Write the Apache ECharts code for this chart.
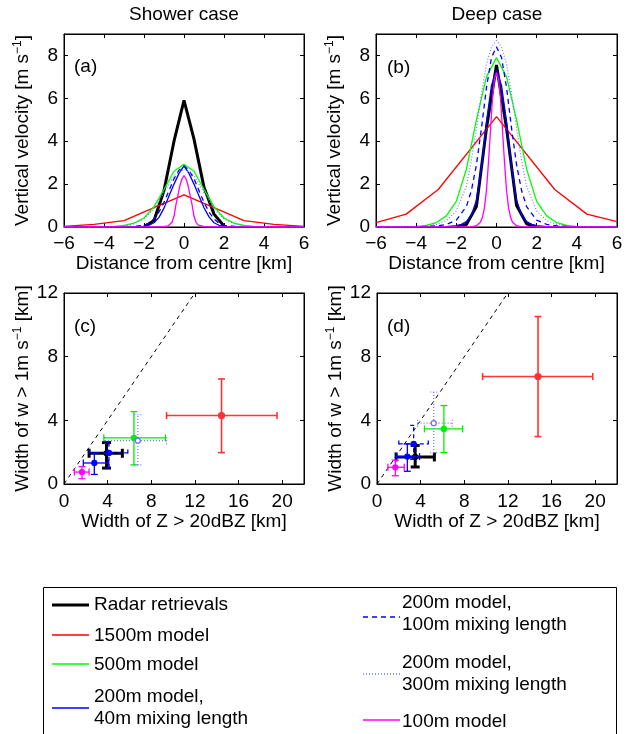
<!DOCTYPE html>
<html><head><meta charset="utf-8">
<script src="https://cdn.jsdelivr.net/npm/echarts@6/dist/echarts.min.js"></script>
<style>html,body{margin:0;padding:0;background:#fff}#c{width:640px;height:734px}</style>
</head><body><div id="c"></div>
<script>
// ------------------ DATA ------------------
const caseTitles = ['Shower case', 'Deep case'];
const panelLabels = ['(a)', '(b)', '(c)', '(d)'];
const seriesNames = ['Radar retrievals', '1500m model', '500m model',
  '200m model,\n40m mixing length', '200m model,\n100m mixing length',
  '200m model,\n300m mixing length', '100m model'];

const distTicks = [-6, -4, -2, 0, 2, 4, 6];
const velTicks = [0, 2, 4, 6, 8];
const widthZTicks = [0, 4, 8, 12, 16, 20];
const widthWTicks = [0, 4, 8, 12];
const oneToOne = [0, 12];

// Shower case profiles (distance km, vertical velocity m/s)
const shRadarX = [-2, -1.5, -1, -0.5, 0, 0.5, 1, 1.5, 2];
const shRadarW = [0, 0.3, 1.7, 4.0, 5.9, 4.1, 1.85, 0.6, 0.05];
const sh1500X = [-6, -4.5, -3, -1.5, 0, 1.5, 3, 4.5, 6];
const sh1500W = [0.03, 0.12, 0.3, 0.9, 1.5, 0.9, 0.3, 0.12, 0.03];
const sh500X = [-6, -5.5, -5, -4.5, -4, -3.5, -3, -2.5, -2, -1.5, -1, -0.5, 0, 0.5, 1, 1.5, 2, 2.5, 3, 3.5, 4, 4.5, 5, 5.5, 6];
const sh500W = [0, 0, 0, 0, 0.01, 0.03, 0.07, 0.18, 0.42, 0.95, 1.75, 2.6, 2.92, 2.6, 1.75, 0.95, 0.42, 0.18, 0.07, 0.03, 0.01, 0, 0, 0, 0];
const sh200aX = [-6, -3, -2, -1.75, -1.5, -1.25, -1, -0.75, -0.5, -0.25, 0, 0.25, 0.5, 0.75, 1, 1.25, 1.5, 1.75, 2, 3, 6];
const sh200aW = [0, 0.01, 0.03, 0.08, 0.2, 0.45, 0.88, 1.45, 2.0, 2.5, 2.85, 2.5, 2.0, 1.45, 0.9, 0.47, 0.2, 0.08, 0.03, 0.01, 0];
const sh200bX = [-6, -3, -2.5, -2, -1.75, -1.5, -1.25, -1, -0.75, -0.5, -0.25, 0, 0.25, 0.5, 0.75, 1, 1.25, 1.5, 1.75, 2, 2.5, 3, 6];
const sh200bW = [0, 0.01, 0.03, 0.08, 0.18, 0.38, 0.7, 1.15, 1.7, 2.25, 2.65, 2.85, 2.65, 2.25, 1.7, 1.15, 0.7, 0.38, 0.18, 0.08, 0.03, 0.01, 0];
const sh200cX = [-6, -4, -3.5, -3, -2.5, -2, -1.5, -1, -0.5, 0, 0.5, 1, 1.5, 2, 2.5, 3, 3.5, 4, 6];
const sh200cW = [0, 0.01, 0.02, 0.05, 0.15, 0.38, 0.85, 1.6, 2.4, 2.7, 2.4, 1.6, 0.85, 0.38, 0.15, 0.05, 0.02, 0.01, 0];
const sh100X = [-6, -1.2, -1, -0.8, -0.7, -0.6, -0.5, -0.4, -0.3, -0.2, -0.1, 0, 0.1, 0.2, 0.3, 0.4, 0.5, 0.6, 0.7, 0.8, 1, 1.2, 6];
const sh100W = [0, 0, 0.02, 0.05, 0.1, 0.22, 0.5, 1.05, 1.5, 1.95, 2.25, 2.4, 2.25, 1.95, 1.5, 1.05, 0.5, 0.22, 0.1, 0.05, 0.02, 0, 0];

// Deep case profiles
const dpRadarX = [-2, -1.5, -1, -0.5, 0, 0.5, 1, 1.5, 2];
const dpRadarW = [0, 0.12, 0.95, 4.6, 7.55, 4.6, 1.0, 0.15, 0];
const dp1500X = [-6, -4.5, -2.9, 0, 2.9, 4.5, 6];
const dp1500W = [0.2, 0.6, 1.75, 5.15, 1.75, 0.6, 0.25];
const dp500X = [-6, -5.5, -5, -4.5, -4, -3.5, -3, -2.5, -2, -1.5, -1, -0.5, 0, 0.5, 1, 1.5, 2, 2.5, 3, 3.5, 4, 4.5, 5, 5.5, 6];
const dp500W = [0, 0, 0, 0.01, 0.02, 0.07, 0.2, 0.52, 1.2, 2.7, 5.0, 7.0, 7.9, 7.0, 5.0, 2.7, 1.2, 0.52, 0.2, 0.07, 0.02, 0.01, 0, 0, 0];
const dp200aX = [-6, -3, -2.5, -2, -1.75, -1.5, -1.25, -1, -0.75, -0.5, -0.25, 0, 0.25, 0.5, 0.75, 1, 1.25, 1.5, 1.75, 2, 2.5, 3, 6];
const dp200aW = [0, 0, 0.02, 0.06, 0.12, 0.25, 0.55, 1.25, 2.8, 4.9, 6.6, 7.3, 6.6, 4.9, 2.8, 1.25, 0.55, 0.25, 0.12, 0.06, 0.02, 0, 0];
const dp200bX = [-6, -4, -3, -2.5, -2, -1.5, -1.25, -1, -0.75, -0.5, -0.25, 0, 0.25, 0.5, 0.75, 1, 1.25, 1.5, 2, 2.5, 3, 4, 6];
const dp200bW = [0, 0, 0.05, 0.12, 0.32, 0.95, 1.7, 2.9, 4.6, 6.5, 7.9, 8.4, 7.9, 6.5, 4.6, 2.9, 1.7, 0.95, 0.32, 0.12, 0.05, 0, 0];
const dp200cX = [-6, -4, -3.5, -3, -2.5, -2, -1.5, -1.25, -1, -0.75, -0.5, -0.25, 0, 0.25, 0.5, 0.75, 1, 1.25, 1.5, 2, 2.5, 3, 3.5, 4, 6];
const dp200cW = [0, 0.02, 0.05, 0.12, 0.3, 0.75, 1.9, 3.1, 4.6, 6.2, 7.6, 8.4, 8.7, 8.4, 7.6, 6.2, 4.6, 3.1, 1.9, 0.75, 0.3, 0.12, 0.05, 0.02, 0];
const dp100X = [-6, -1.5, -1.2, -1, -0.8, -0.7, -0.6, -0.5, -0.4, -0.3, -0.2, -0.1, 0, 0.1, 0.2, 0.3, 0.4, 0.5, 0.6, 0.7, 0.8, 1, 1.2, 1.5, 6];
const dp100W = [0, 0, 0.02, 0.06, 0.22, 0.45, 0.9, 1.7, 3.0, 4.5, 6.0, 6.9, 7.2, 6.9, 6.0, 4.5, 3.0, 1.7, 0.9, 0.45, 0.22, 0.06, 0.02, 0, 0];

// Widths (order: radar, 1500, 500, 200/40, 200/100, 200/300, 100)
const shWidthZ   = [3.9, 14.44, 6.41, 2.78, 4.12, 6.77, 1.65];
const shWidthZLo = [2.3, 9.4, 3.65, 1.77, 2.3, 3.75, 0.95];
const shWidthZHi = [5.35, 19.53, 9.3, 4.1, 5.85, 9.4, 2.3];
const shWidthW   = [1.93, 4.3, 2.9, 1.32, 1.95, 2.72, 0.75];
const shWidthWLo = [1.0, 1.97, 1.2, 0.6, 1.02, 1.2, 0.33];
const shWidthWHi = [2.6, 6.6, 4.55, 1.95, 2.65, 4.35, 1.09];

const dpWidthZ   = [3.5, 14.76, 6.13, 2.78, 3.36, 5.2, 1.68];
const dpWidthZLo = [1.75, 9.68, 4.35, 1.76, 2.0, 3.72, 1.0];
const dpWidthZHi = [5.26, 19.78, 7.85, 3.9, 4.7, 6.9, 2.5];
const dpWidthW   = [1.7, 6.75, 3.46, 1.72, 2.52, 3.82, 1.05];
const dpWidthWLo = [1.07, 2.98, 1.97, 0.8, 1.55, 1.95, 0.52];
const dpWidthWHi = [2.42, 10.52, 4.93, 2.52, 3.68, 5.78, 1.5];

// ------------------ STYLE ------------------
const FONT = '"Liberation Sans", Arial, Helvetica, sans-serif';
const FS = 19;
const lineStyles = [
  {color: '#000000', width: 3, type: 'solid'},
  {color: '#ff0000', width: 1.3, type: 'solid'},
  {color: '#00ff00', width: 1.3, type: 'solid'},
  {color: '#0000ff', width: 1.3, type: 'solid'},
  {color: '#0000ff', width: 1.3, type: [5, 4]},
  {color: '#7777ff', width: 1.2, type: [1, 2]},
  {color: '#ff00ff', width: 1.3, type: 'solid'}
];
const barStyles = [
  {color: '#000000', width: 3, dash: null, cap: 4.5, r: 2.5, open: false},
  {color: '#ff3333', width: 1.6, dash: null, cap: 3.5, r: 3, open: false},
  {color: '#00ee00', width: 1.3, dash: null, cap: 3.5, r: 2.5, open: false},
  {color: '#0000ff', width: 1.3, dash: null, cap: 3.5, r: 2.5, open: false},
  {color: '#0000ff', width: 1.3, dash: [4, 3], cap: 3.5, r: 2.5, open: false},
  {color: '#6f6fff', width: 1.2, dash: [1, 2], cap: 3.5, r: 2.5, open: true},
  {color: '#ff00ff', width: 1.3, dash: null, cap: 3.5, r: 2.5, open: false}
];

const grids = [
  {left: 64, top: 34, width: 240, height: 193},
  {left: 376, top: 34, width: 241, height: 193},
  {left: 64, top: 293, width: 240, height: 191},
  {left: 377, top: 293, width: 240, height: 191}
];

function fmt(v) { return v < 0 ? '\u2212' + (-v) : String(v); }
const txt = {color: '#000', fontSize: FS, fontFamily: FONT};

function xAxes(g, min, max, ticks, name, gap, margin) {
  const base = {type: 'value', gridIndex: g, min: min, max: max, splitLine: {show: false}};
  return [
    Object.assign({}, base, {
      position: 'bottom',
      axisLine: {show: true, onZero: false, lineStyle: {color: '#000', width: 1}},
      axisTick: {show: true, inside: true, length: 4, customValues: ticks, lineStyle: {color: '#000', width: 1}},
      axisLabel: Object.assign({show: true, customValues: ticks, formatter: fmt, margin: margin}, txt),
      name: name, nameLocation: 'middle', nameGap: gap, nameTextStyle: Object.assign({}, txt)
    }),
    Object.assign({}, base, {
      position: 'top',
      axisLine: {show: true, onZero: false, lineStyle: {color: '#000', width: 1}},
      axisTick: {show: true, inside: true, length: 4, customValues: ticks, lineStyle: {color: '#000', width: 1}},
      axisLabel: {show: false}
    })
  ];
}
function yAxes(g, min, max, ticks, name, gap) {
  const base = {type: 'value', gridIndex: g, min: min, max: max, splitLine: {show: false}};
  return [
    Object.assign({}, base, {
      position: 'left',
      axisLine: {show: true, onZero: false, lineStyle: {color: '#000', width: 1}},
      axisTick: {show: true, inside: true, length: 4, customValues: ticks, lineStyle: {color: '#000', width: 1}},
      axisLabel: Object.assign({show: true, customValues: ticks, formatter: fmt, margin: 6}, txt),
      name: name, nameLocation: 'middle', nameGap: gap,
      nameTextStyle: Object.assign({}, txt, {
        rich: {
          n: {fontSize: FS, fontFamily: FONT, color: '#000', lineHeight: 22},
          s: {fontSize: 12, fontFamily: FONT, color: '#000', lineHeight: 12, verticalAlign: 'top'}
        }
      })
    }),
    Object.assign({}, base, {
      position: 'right',
      axisLine: {show: true, onZero: false, lineStyle: {color: '#000', width: 1}},
      axisTick: {show: true, inside: true, length: 4, customValues: ticks, lineStyle: {color: '#000', width: 1}},
      axisLabel: {show: false}
    })
  ];
}

const velName = '{n|Vertical velocity [m s}{s|\u22121}{n|]}';
const wName = '{n|Width of w > 1m s}{s|\u22121}{n| [km]}';
const distName = 'Distance from centre [km]';
const zName = 'Width of Z > 20dBZ [km]';

const xAxis = [].concat(
  xAxes(0, -6, 6, distTicks, distName, 23, 7),
  xAxes(1, -6, 6, distTicks, distName, 23, 7),
  xAxes(2, 0, 22, widthZTicks, zName, 24, 8),
  xAxes(3, 0, 22, widthZTicks, zName, 24, 8)
);
const yAxis = [].concat(
  yAxes(0, 0, 9, velTicks, velName, 30),
  yAxes(1, 0, 9, velTicks, velName, 30),
  yAxes(2, 0, 12, widthWTicks, wName, 30),
  yAxes(3, 0, 12, widthWTicks, wName, 30)
);

function lineSeries(panel, idx, xs, ys) {
  const st = lineStyles[idx];
  return {
    type: 'line', name: seriesNames[idx], xAxisIndex: 2 * panel, yAxisIndex: 2 * panel,
    data: xs.map((x, i) => [x, ys[i]]), showSymbol: false, symbol: 'none',
    lineStyle: {color: st.color, width: st.width, type: st.type}, itemStyle: {color: st.color},
    silent: true, animation: false, z: 2 + idx, clip: true
  };
}

function errSeries(panel, idx, cx, cy, xlo, xhi, ylo, yhi) {
  const st = barStyles[idx];
  return {
    type: 'custom', name: seriesNames[idx], xAxisIndex: 2 * panel, yAxisIndex: 2 * panel,
    silent: true, animation: false, z: 2 + idx,
    data: [[cx, cy, xlo, xhi, ylo, yhi]],
    encode: {x: [0, 2, 3], y: [1, 4, 5]},
    renderItem: function (params, api) {
      const c = api.coord([api.value(0), api.value(1)]);
      const l = api.coord([api.value(2), api.value(1)]);
      const r = api.coord([api.value(3), api.value(1)]);
      const b = api.coord([api.value(0), api.value(4)]);
      const t = api.coord([api.value(0), api.value(5)]);
      const h = st.cap;
      const ls = {stroke: st.color, lineWidth: st.width, lineDash: st.dash, fill: null};
      const seg = (x1, y1, x2, y2) => ({type: 'line', shape: {x1: x1, y1: y1, x2: x2, y2: y2}, style: ls});
      return {type: 'group', children: [
        seg(l[0], l[1], r[0], r[1]), seg(b[0], b[1], t[0], t[1]),
        seg(l[0], l[1] - h, l[0], l[1] + h), seg(r[0], r[1] - h, r[0], r[1] + h),
        seg(b[0] - h, b[1], b[0] + h, b[1]), seg(t[0] - h, t[1], t[0] + h, t[1]),
        {type: 'circle', shape: {cx: c[0], cy: c[1], r: st.r},
         style: {fill: st.open ? '#fff' : st.color, stroke: st.color, lineWidth: 1.3}}
      ]};
    }
  };
}

const series = [];
const shProfiles = [[shRadarX, shRadarW], [sh1500X, sh1500W], [sh500X, sh500W], [sh200aX, sh200aW], [sh200bX, sh200bW], [sh200cX, sh200cW], [sh100X, sh100W]];
const dpProfiles = [[dpRadarX, dpRadarW], [dp1500X, dp1500W], [dp500X, dp500W], [dp200aX, dp200aW], [dp200bX, dp200bW], [dp200cX, dp200cW], [dp100X, dp100W]];
shProfiles.forEach((p, i) => series.push(lineSeries(0, i, p[0], p[1])));
dpProfiles.forEach((p, i) => series.push(lineSeries(1, i, p[0], p[1])));

[2, 3].forEach(panel => {
  series.push({
    type: 'line', name: '1:1', xAxisIndex: 2 * panel, yAxisIndex: 2 * panel,
    data: oneToOne.map(v => [v, v]), showSymbol: false, symbol: 'none', silent: true, animation: false,
    lineStyle: {color: '#000', width: 1, type: [4, 4]}, z: 1
  });
});
for (let i = 0; i < 7; i++) {
  series.push(errSeries(2, i, shWidthZ[i], shWidthW[i], shWidthZLo[i], shWidthZHi[i], shWidthWLo[i], shWidthWHi[i]));
}
for (let i = 0; i < 7; i++) {
  series.push(errSeries(3, i, dpWidthZ[i], dpWidthW[i], dpWidthZLo[i], dpWidthZHi[i], dpWidthWLo[i], dpWidthWHi[i]));
}

// ------------------ GRAPHICS (titles, panel labels, legend) ------------------
function gText(text, x, y, align, extra) {
  return {type: 'text', x: x, y: y, silent: true, z: 100,
    style: Object.assign({text: text, fill: '#000', fontSize: FS, fontFamily: FONT,
      align: align || 'left', verticalAlign: 'middle', textAlign: align || 'left', textVerticalAlign: 'middle'}, extra || {})};
}
const graphic = [];
graphic.push(gText(caseTitles[0], 184, 15, 'center'));
graphic.push(gText(caseTitles[1], 497, 15, 'center'));
graphic.push(gText(panelLabels[0], 74, 67));
graphic.push(gText(panelLabels[1], 387, 68));
graphic.push(gText(panelLabels[2], 74, 327));
graphic.push(gText(panelLabels[3], 387, 327));

graphic.push({type: 'rect', silent: true, z: 90, shape: {x: 43.5, y: 587.5, width: 573, height: 160},
  style: {fill: '#fff', stroke: '#000', lineWidth: 1}});
const legendPos = [
  {lx: 52, tx: 94, ly: 605, ty: 605},
  {lx: 52, tx: 94, ly: 635, ty: 636},
  {lx: 52, tx: 94, ly: 664, ty: 665},
  {lx: 52, tx: 94, ly: 708, ty: 708},
  {lx: 363, tx: 402, ly: 617, ty: 614},
  {lx: 363, tx: 402, ly: 674, ty: 674},
  {lx: 363, tx: 402, ly: 720, ty: 722}
];
seriesNames.forEach((nm, i) => {
  const p = legendPos[i], st = lineStyles[i];
  graphic.push({type: 'line', silent: true, z: 95,
    shape: {x1: p.lx, y1: p.ly, x2: p.lx + 37, y2: p.ly},
    style: {stroke: st.color, lineWidth: i === 0 ? 3 : 1.3, lineDash: Array.isArray(st.type) ? st.type : null}});
  graphic.push(gText(nm, p.tx, p.ty, 'left', {lineHeight: 22}));
});

const chart = echarts.init(document.getElementById('c'), null, {renderer: 'canvas'});
chart.setOption({
  animation: false,
  backgroundColor: '#fff',
  grid: grids.map(g => Object.assign({show: true, borderColor: '#000', borderWidth: 1, backgroundColor: 'transparent', containLabel: false}, g)),
  xAxis: xAxis,
  yAxis: yAxis,
  series: series,
  graphic: graphic
});
</script>
</body></html>
